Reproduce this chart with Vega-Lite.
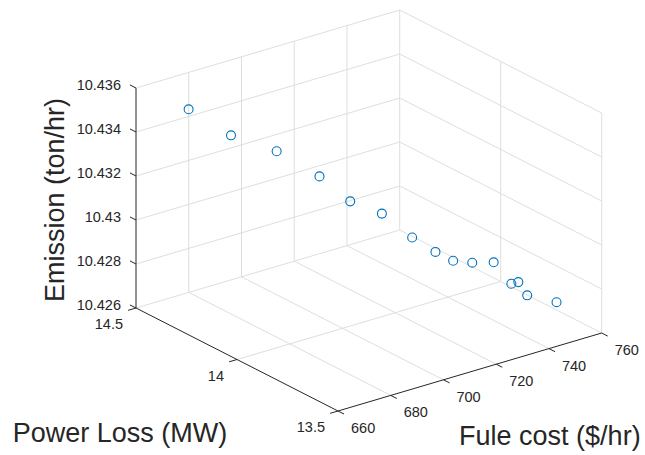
{
  "$schema": "https://vega.github.io/schema/vega-lite/v6.json",
  "width": 645,
  "height": 455,
  "autosize": "none",
  "padding": 0,
  "background": "white",
  "config": {"view": {"stroke": null}},
  "datasets": {
    "grid": [
      {"c1": 660, "l1": 14.5, "e1": 10.426, "c2": 760, "l2": 14.5, "e2": 10.426},
      {"c1": 660, "l1": 14.5, "e1": 10.428, "c2": 760, "l2": 14.5, "e2": 10.428},
      {"c1": 660, "l1": 14.5, "e1": 10.43, "c2": 760, "l2": 14.5, "e2": 10.43},
      {"c1": 660, "l1": 14.5, "e1": 10.432, "c2": 760, "l2": 14.5, "e2": 10.432},
      {"c1": 660, "l1": 14.5, "e1": 10.434, "c2": 760, "l2": 14.5, "e2": 10.434},
      {"c1": 660, "l1": 14.5, "e1": 10.436, "c2": 760, "l2": 14.5, "e2": 10.436},
      {"c1": 680, "l1": 14.5, "e1": 10.426, "c2": 680, "l2": 14.5, "e2": 10.436},
      {"c1": 700, "l1": 14.5, "e1": 10.426, "c2": 700, "l2": 14.5, "e2": 10.436},
      {"c1": 720, "l1": 14.5, "e1": 10.426, "c2": 720, "l2": 14.5, "e2": 10.436},
      {"c1": 740, "l1": 14.5, "e1": 10.426, "c2": 740, "l2": 14.5, "e2": 10.436},
      {"c1": 760, "l1": 14.5, "e1": 10.426, "c2": 760, "l2": 14.5, "e2": 10.436},
      {"c1": 760, "l1": 13.5, "e1": 10.426, "c2": 760, "l2": 14.5, "e2": 10.426},
      {"c1": 760, "l1": 13.5, "e1": 10.428, "c2": 760, "l2": 14.5, "e2": 10.428},
      {"c1": 760, "l1": 13.5, "e1": 10.43, "c2": 760, "l2": 14.5, "e2": 10.43},
      {"c1": 760, "l1": 13.5, "e1": 10.432, "c2": 760, "l2": 14.5, "e2": 10.432},
      {"c1": 760, "l1": 13.5, "e1": 10.434, "c2": 760, "l2": 14.5, "e2": 10.434},
      {"c1": 760, "l1": 13.5, "e1": 10.436, "c2": 760, "l2": 14.5, "e2": 10.436},
      {"c1": 760, "l1": 13.5, "e1": 10.426, "c2": 760, "l2": 13.5, "e2": 10.436},
      {"c1": 760, "l1": 14, "e1": 10.426, "c2": 760, "l2": 14, "e2": 10.436},
      {"c1": 680, "l1": 13.5, "e1": 10.426, "c2": 680, "l2": 14.5, "e2": 10.426},
      {"c1": 700, "l1": 13.5, "e1": 10.426, "c2": 700, "l2": 14.5, "e2": 10.426},
      {"c1": 720, "l1": 13.5, "e1": 10.426, "c2": 720, "l2": 14.5, "e2": 10.426},
      {"c1": 740, "l1": 13.5, "e1": 10.426, "c2": 740, "l2": 14.5, "e2": 10.426},
      {"c1": 660, "l1": 14, "e1": 10.426, "c2": 760, "l2": 14, "e2": 10.426}
    ],
    "axes": [
      {"c1": 660, "l1": 14.5, "e1": 10.426, "c2": 660, "l2": 14.5, "e2": 10.436},
      {"c1": 660, "l1": 13.5, "e1": 10.426, "c2": 660, "l2": 14.5, "e2": 10.426},
      {"c1": 660, "l1": 13.5, "e1": 10.426, "c2": 760, "l2": 13.5, "e2": 10.426},
      {"c1": 660, "l1": 14.5, "e1": 10.426, "c2": 660, "l2": 14.53, "e2": 10.426},
      {"c1": 660, "l1": 14.5, "e1": 10.428, "c2": 660, "l2": 14.53, "e2": 10.428},
      {"c1": 660, "l1": 14.5, "e1": 10.43, "c2": 660, "l2": 14.53, "e2": 10.43},
      {"c1": 660, "l1": 14.5, "e1": 10.432, "c2": 660, "l2": 14.53, "e2": 10.432},
      {"c1": 660, "l1": 14.5, "e1": 10.434, "c2": 660, "l2": 14.53, "e2": 10.434},
      {"c1": 660, "l1": 14.5, "e1": 10.436, "c2": 660, "l2": 14.53, "e2": 10.436},
      {"c1": 660, "l1": 13.5, "e1": 10.426, "c2": 657, "l2": 13.5, "e2": 10.426},
      {"c1": 660, "l1": 14, "e1": 10.426, "c2": 657, "l2": 14, "e2": 10.426},
      {"c1": 660, "l1": 14.5, "e1": 10.426, "c2": 657, "l2": 14.5, "e2": 10.426},
      {"c1": 660, "l1": 13.5, "e1": 10.426, "c2": 660, "l2": 13.47, "e2": 10.426},
      {"c1": 680, "l1": 13.5, "e1": 10.426, "c2": 680, "l2": 13.47, "e2": 10.426},
      {"c1": 700, "l1": 13.5, "e1": 10.426, "c2": 700, "l2": 13.47, "e2": 10.426},
      {"c1": 720, "l1": 13.5, "e1": 10.426, "c2": 720, "l2": 13.47, "e2": 10.426},
      {"c1": 740, "l1": 13.5, "e1": 10.426, "c2": 740, "l2": 13.47, "e2": 10.426},
      {"c1": 760, "l1": 13.5, "e1": 10.426, "c2": 760, "l2": 13.47, "e2": 10.426}
    ],
    "labels": [
      {"kind": "z", "c": 660, "l": 14.5, "e": 10.426, "t": "10.426"},
      {"kind": "z", "c": 660, "l": 14.5, "e": 10.428, "t": "10.428"},
      {"kind": "z", "c": 660, "l": 14.5, "e": 10.43, "t": "10.43"},
      {"kind": "z", "c": 660, "l": 14.5, "e": 10.432, "t": "10.432"},
      {"kind": "z", "c": 660, "l": 14.5, "e": 10.434, "t": "10.434"},
      {"kind": "z", "c": 660, "l": 14.5, "e": 10.436, "t": "10.436"},
      {"kind": "y", "c": 660, "l": 13.5, "e": 10.426, "t": "13.5"},
      {"kind": "y", "c": 660, "l": 14, "e": 10.426, "t": "14"},
      {"kind": "y", "c": 660, "l": 14.5, "e": 10.426, "t": "14.5"},
      {"kind": "x", "c": 660, "l": 13.5, "e": 10.426, "t": "660"},
      {"kind": "x", "c": 680, "l": 13.5, "e": 10.426, "t": "680"},
      {"kind": "x", "c": 700, "l": 13.5, "e": 10.426, "t": "700"},
      {"kind": "x", "c": 720, "l": 13.5, "e": 10.426, "t": "720"},
      {"kind": "x", "c": 740, "l": 13.5, "e": 10.426, "t": "740"},
      {"kind": "x", "c": 760, "l": 13.5, "e": 10.426, "t": "760"},
      {"kind": "zt", "c": 660, "l": 14.5, "e": 10.431, "t": "Emission (ton/hr)"},
      {"kind": "yt", "c": 660, "l": 14, "e": 10.426, "t": "Power Loss (MW)"},
      {"kind": "xt", "c": 710, "l": 13.5, "e": 10.426, "t": "Fule cost ($/hr)"}
    ],
    "points": [
      {"c": 671.3, "l": 14.387, "e": 10.43516},
      {"c": 680.4, "l": 14.296, "e": 10.43408},
      {"c": 690.2, "l": 14.198, "e": 10.43347},
      {"c": 699.4, "l": 14.106, "e": 10.43243},
      {"c": 706.0, "l": 14.040, "e": 10.43137},
      {"c": 712.8, "l": 13.972, "e": 10.43089},
      {"c": 719.3, "l": 13.907, "e": 10.42988},
      {"c": 724.3, "l": 13.857, "e": 10.42928},
      {"c": 728.1, "l": 13.819, "e": 10.42892},
      {"c": 732.2, "l": 13.778, "e": 10.42888},
      {"c": 736.8, "l": 13.732, "e": 10.42895},
      {"c": 740.6, "l": 13.694, "e": 10.42802},
      {"c": 742.1, "l": 13.679, "e": 10.42811},
      {"c": 744.0, "l": 13.660, "e": 10.42753},
      {"c": 750.3, "l": 13.597, "e": 10.42729}
    ]
  },
  "layer": [
    {
      "data": {"name": "grid"},
      "transform": [
        {"calculate": "263.7*(datum.c1-660)/100 - 202*(datum.l1-13.5)", "as": "px1"},
        {"calculate": "78*(datum.c1-660)/100 + 103*(datum.l1-13.5) + 22000*(datum.e1-10.426)", "as": "py1"},
        {"calculate": "263.7*(datum.c2-660)/100 - 202*(datum.l2-13.5)", "as": "px2"},
        {"calculate": "78*(datum.c2-660)/100 + 103*(datum.l2-13.5) + 22000*(datum.e2-10.426)", "as": "py2"}
      ],
      "mark": {"type": "rule", "color": "#dedede", "strokeWidth": 1},
      "encoding": {
        "x": {"field": "px1", "type": "quantitative", "scale": {"domain": [-338, 307], "nice": false, "zero": false}, "axis": null},
        "y": {"field": "py1", "type": "quantitative", "scale": {"domain": [-44, 411], "nice": false, "zero": false}, "axis": null},
        "x2": {"field": "px2"},
        "y2": {"field": "py2"}
      }
    },
    {
      "data": {"name": "points"},
      "transform": [
        {"calculate": "263.7*(datum.c-660)/100 - 202*(datum.l-13.5)", "as": "px"},
        {"calculate": "78*(datum.c-660)/100 + 103*(datum.l-13.5) + 22000*(datum.e-10.426)", "as": "py"}
      ],
      "mark": {"type": "point", "shape": "circle", "filled": false, "color": "#0072BD", "strokeWidth": 1.1, "size": 80, "opacity": 1},
      "encoding": {
        "x": {"field": "px", "type": "quantitative", "scale": {"domain": [-338, 307], "nice": false, "zero": false}, "axis": null},
        "y": {"field": "py", "type": "quantitative", "scale": {"domain": [-44, 411], "nice": false, "zero": false}, "axis": null}
      }
    },
    {
      "data": {"name": "axes"},
      "transform": [
        {"calculate": "263.7*(datum.c1-660)/100 - 202*(datum.l1-13.5)", "as": "px1"},
        {"calculate": "78*(datum.c1-660)/100 + 103*(datum.l1-13.5) + 22000*(datum.e1-10.426)", "as": "py1"},
        {"calculate": "263.7*(datum.c2-660)/100 - 202*(datum.l2-13.5)", "as": "px2"},
        {"calculate": "78*(datum.c2-660)/100 + 103*(datum.l2-13.5) + 22000*(datum.e2-10.426)", "as": "py2"}
      ],
      "mark": {"type": "rule", "color": "#262626", "strokeWidth": 1},
      "encoding": {
        "x": {"field": "px1", "type": "quantitative", "scale": {"domain": [-338, 307], "nice": false, "zero": false}, "axis": null},
        "y": {"field": "py1", "type": "quantitative", "scale": {"domain": [-44, 411], "nice": false, "zero": false}, "axis": null},
        "x2": {"field": "px2"},
        "y2": {"field": "py2"}
      }
    },
    {
      "data": {"name": "labels"},
      "transform": [
        {"filter": "datum.kind == 'z'"},
        {"calculate": "263.7*(datum.c-660)/100 - 202*(datum.l-13.5)", "as": "px"},
        {"calculate": "78*(datum.c-660)/100 + 103*(datum.l-13.5) + 22000*(datum.e-10.426)", "as": "py"}
      ],
      "mark": {"type": "text", "align": "right", "baseline": "middle", "dx": -15, "dy": -2, "font": "Liberation Sans", "fontSize": 14.5, "color": "#262626"},
      "encoding": {
        "x": {"field": "px", "type": "quantitative", "scale": {"domain": [-338, 307], "nice": false, "zero": false}, "axis": null},
        "y": {"field": "py", "type": "quantitative", "scale": {"domain": [-44, 411], "nice": false, "zero": false}, "axis": null},
        "text": {"field": "t"}
      }
    },
    {
      "data": {"name": "labels"},
      "transform": [
        {"filter": "datum.kind == 'y'"},
        {"calculate": "263.7*(datum.c-660)/100 - 202*(datum.l-13.5)", "as": "px"},
        {"calculate": "78*(datum.c-660)/100 + 103*(datum.l-13.5) + 22000*(datum.e-10.426)", "as": "py"}
      ],
      "mark": {"type": "text", "align": "right", "baseline": "middle", "dx": -13, "dy": 17, "font": "Liberation Sans", "fontSize": 14.5, "color": "#262626"},
      "encoding": {
        "x": {"field": "px", "type": "quantitative", "scale": {"domain": [-338, 307], "nice": false, "zero": false}, "axis": null},
        "y": {"field": "py", "type": "quantitative", "scale": {"domain": [-44, 411], "nice": false, "zero": false}, "axis": null},
        "text": {"field": "t"}
      }
    },
    {
      "data": {"name": "labels"},
      "transform": [
        {"filter": "datum.kind == 'x'"},
        {"calculate": "263.7*(datum.c-660)/100 - 202*(datum.l-13.5)", "as": "px"},
        {"calculate": "78*(datum.c-660)/100 + 103*(datum.l-13.5) + 22000*(datum.e-10.426)", "as": "py"}
      ],
      "mark": {"type": "text", "align": "left", "baseline": "middle", "dx": 13, "dy": 18, "font": "Liberation Sans", "fontSize": 14.5, "color": "#262626"},
      "encoding": {
        "x": {"field": "px", "type": "quantitative", "scale": {"domain": [-338, 307], "nice": false, "zero": false}, "axis": null},
        "y": {"field": "py", "type": "quantitative", "scale": {"domain": [-44, 411], "nice": false, "zero": false}, "axis": null},
        "text": {"field": "t"}
      }
    },
    {
      "data": {"name": "labels"},
      "transform": [
        {"filter": "datum.kind == 'zt'"},
        {"calculate": "263.7*(datum.c-660)/100 - 202*(datum.l-13.5)", "as": "px"},
        {"calculate": "78*(datum.c-660)/100 + 103*(datum.l-13.5) + 22000*(datum.e-10.426)", "as": "py"}
      ],
      "mark": {"type": "text", "align": "center", "baseline": "middle", "angle": 270, "dx": -2, "dy": -80, "font": "Liberation Sans", "fontSize": 27, "color": "#262626"},
      "encoding": {
        "x": {"field": "px", "type": "quantitative", "scale": {"domain": [-338, 307], "nice": false, "zero": false}, "axis": null},
        "y": {"field": "py", "type": "quantitative", "scale": {"domain": [-44, 411], "nice": false, "zero": false}, "axis": null},
        "text": {"field": "t"}
      }
    },
    {
      "data": {"name": "labels"},
      "transform": [
        {"filter": "datum.kind == 'yt'"},
        {"calculate": "263.7*(datum.c-660)/100 - 202*(datum.l-13.5)", "as": "px"},
        {"calculate": "78*(datum.c-660)/100 + 103*(datum.l-13.5) + 22000*(datum.e-10.426)", "as": "py"}
      ],
      "mark": {"type": "text", "align": "center", "baseline": "middle", "dx": -117, "dy": 74, "font": "Liberation Sans", "fontSize": 27, "color": "#262626"},
      "encoding": {
        "x": {"field": "px", "type": "quantitative", "scale": {"domain": [-338, 307], "nice": false, "zero": false}, "axis": null},
        "y": {"field": "py", "type": "quantitative", "scale": {"domain": [-44, 411], "nice": false, "zero": false}, "axis": null},
        "text": {"field": "t"}
      }
    },
    {
      "data": {"name": "labels"},
      "transform": [
        {"filter": "datum.kind == 'xt'"},
        {"calculate": "263.7*(datum.c-660)/100 - 202*(datum.l-13.5)", "as": "px"},
        {"calculate": "78*(datum.c-660)/100 + 103*(datum.l-13.5) + 22000*(datum.e-10.426)", "as": "py"}
      ],
      "mark": {"type": "text", "align": "center", "baseline": "middle", "dx": 80, "dy": 65, "font": "Liberation Sans", "fontSize": 27, "color": "#262626"},
      "encoding": {
        "x": {"field": "px", "type": "quantitative", "scale": {"domain": [-338, 307], "nice": false, "zero": false}, "axis": null},
        "y": {"field": "py", "type": "quantitative", "scale": {"domain": [-44, 411], "nice": false, "zero": false}, "axis": null},
        "text": {"field": "t"}
      }
    }
  ]
}
